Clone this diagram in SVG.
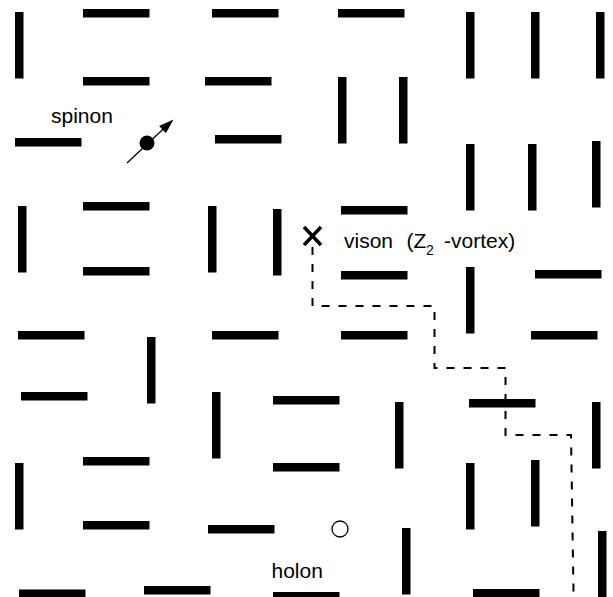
<svg xmlns="http://www.w3.org/2000/svg" width="613" height="597" viewBox="0 0 613 597">
<style>
.h{fill:#000;width:66.5px;height:8.5px}
.v{fill:#000;width:8.5px;height:66.5px}
.lbl{font-family:"Liberation Sans",Arial,sans-serif;font-size:21px;fill:#000}
.sub{font-family:"Liberation Sans",Arial,sans-serif;font-size:14px;fill:#000}
</style>
<defs>
<rect id="H" width="66.5" height="8.5" fill="#000"/>
<rect id="V" width="8.5" height="66.5" fill="#000"/>
</defs>
<rect width="613" height="597" fill="#fff"/>
<g id="dimers">
<use href="#H" x="83" y="9"/><use href="#H" x="212" y="9"/><use href="#H" x="338" y="9"/>
<use href="#H" x="83" y="77"/><use href="#H" x="205" y="77"/>
<use href="#H" x="15" y="138"/><use href="#H" x="215" y="135"/>
<use href="#H" x="83" y="202"/><use href="#H" x="83" y="267"/><use href="#H" x="341" y="206"/><use href="#H" x="341" y="271"/><use href="#H" x="535" y="270"/>
<use href="#H" x="18" y="331"/><use href="#H" x="212" y="331"/><use href="#H" x="341" y="331"/><use href="#H" x="531" y="331"/>
<use href="#H" x="21" y="392"/><use href="#H" x="273" y="396"/><use href="#H" x="469" y="399"/>
<use href="#H" x="83" y="457"/><use href="#H" x="83" y="521"/><use href="#H" x="273" y="463"/><use href="#H" x="208" y="525"/>
<use href="#H" x="19" y="589.5"/><use href="#H" x="144" y="586"/><use href="#H" x="273" y="592"/><use href="#H" x="473" y="589"/>
<use href="#V" x="15" y="12"/><use href="#V" x="466" y="12"/><use href="#V" x="531" y="12"/><use href="#V" x="596" y="12"/>
<use href="#V" x="338" y="77"/><use href="#V" x="399" y="77"/>
<use href="#V" x="466" y="144"/><use href="#V" x="528" y="144"/><use href="#V" x="592" y="141"/>
<use href="#V" x="18" y="206"/><use href="#V" x="208" y="206"/><use href="#V" x="273" y="209"/>
<use href="#V" x="466" y="267"/>
<use href="#V" x="147" y="337"/>
<use href="#V" x="212" y="392"/><use href="#V" x="395" y="402"/><use href="#V" x="592" y="402"/>
<use href="#V" x="15" y="463"/><use href="#V" x="466" y="463"/><use href="#V" x="531" y="460"/>
<use href="#V" x="402" y="528"/><use href="#V" x="598" y="531"/>
</g>
<g id="connectors">
<path d="M312.5,247 V306 H434.5 V368 H505.5 V435 H571 L573.5,592" fill="none" stroke="#000" stroke-width="2" stroke-dasharray="8,9"/>
</g>
<g id="spinon">
<line x1="127" y1="163" x2="166" y2="126.5" stroke="#000" stroke-width="1.3"/>
<polygon points="173.5,119.5 165.9,133.35 159.1,126.05" fill="#000"/>
<circle cx="147" cy="143" r="7.5" fill="#000"/>
<text class="lbl" x="51" y="122.5">spinon</text>
</g>
<g id="vison">
<path d="M304,227 L321,245 M321,227 L304,245" stroke="#000" stroke-width="3.5" fill="none"/>
<text class="lbl" x="344" y="247.5">vison</text>
<text class="lbl" x="406.5" y="247.5">(Z</text>
<text class="sub" x="426" y="254.5">2</text>
<text class="lbl" x="444" y="247.5">-vortex)</text>
</g>
<g id="holon">
<circle cx="340" cy="529" r="8" fill="#fff" stroke="#000" stroke-width="1.3"/>
<text class="lbl" x="271.5" y="577.5">holon</text>
</g>
</svg>
